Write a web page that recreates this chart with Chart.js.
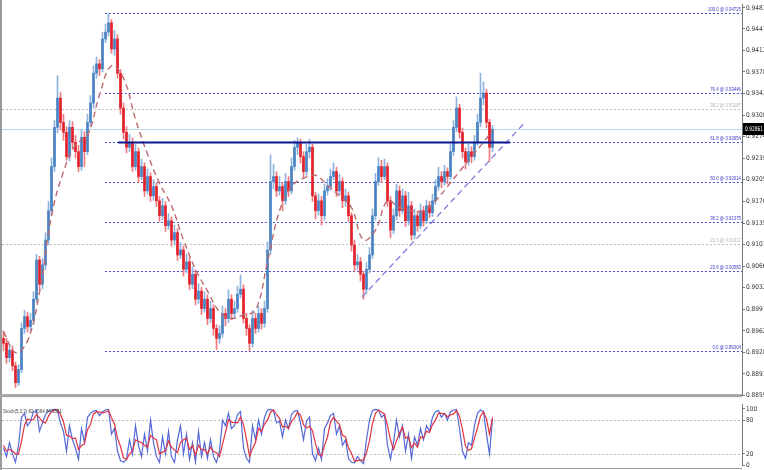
<!DOCTYPE html>
<html>
<head>
<meta charset="utf-8">
<script src="https://cdn.jsdelivr.net/npm/chart.js@4.4.1/dist/chart.umd.min.js"></script>
<style>
  html, body { margin: 0; padding: 0; background: #ffffff; }
  #contenedor { position: relative; width: 764px; height: 470px; overflow: hidden; }
  #grafico_principal { position: absolute; left: 0; top: 0; }
  #grafico_stoch { position: absolute; left: 0; top: 400px; }
</style>
</head>
<body>
<div id="contenedor">
  <canvas id="grafico_principal" width="764" height="400"></canvas>
  <canvas id="grafico_stoch" width="764" height="70"></canvas>
</div>
<script>
// DATOS
let aperturaInicial = 0.8950;
let cierres = [
  0.8942,0.8919,0.8931,0.8906,0.8879,0.8900,
  0.8966,0.8985,0.8969,0.8979,0.9013,
  0.9076,0.9037,0.9068,0.9108,0.9155,
  0.9226,0.9289,0.9336,0.9297,
  0.9281,0.9242,0.9289,0.9265,0.9250,0.9226,0.9273,0.9250,0.9297,
  0.9328,0.9376,0.9391,0.9383,0.9431,0.9442,0.9457,
  0.9415,0.9431,0.9376,0.9320,0.9281,
  0.9257,0.9265,0.9226,0.9250,0.9210,0.9226,0.9187,0.9210,0.9179,0.9194,
  0.9171,0.9147,0.9163,0.9131,0.9139,0.9108,0.9120,0.9084,0.9092,0.9061,
  0.9073,0.9037,0.9053,0.9013,0.9026,0.8998,
  0.9013,0.8982,0.8998,0.8966,0.8950,0.8958,0.8990,0.8982,
  0.9013,0.8990,0.8998,0.9021,0.9029,0.8982,0.8966,0.8942,
  0.8982,0.8966,0.8990,0.8974,0.8998,
  0.9092,0.9202,0.9210,0.9187,0.9194,0.9171,0.9202,0.9187,0.9226,
  0.9257,0.9265,0.9242,0.9218,0.9250,0.9257,
  0.9179,0.9155,0.9171,0.9147,0.9187,0.9194,0.9210,0.9218,0.9187,0.9202,0.9171,0.9179,
  0.9147,0.9100,0.9068,0.9073,0.9053,0.9029,
  0.9061,0.9084,0.9147,0.9202,0.9226,0.9210,0.9226,
  0.9171,0.9124,0.9147,0.9187,0.9155,0.9179,0.9139,0.9163,
  0.9116,0.9147,0.9131,0.9155,0.9139,0.9163,0.9152,0.9171,0.9194,
  0.9210,0.9202,0.9218,0.9210,
  0.9250,0.9289,0.9320,0.9281,0.9250,0.9234,0.9250,0.9242,0.9265,0.9297,0.9336,0.9344,0.9297,0.9257,0.92861
];
let maximos = [
  0.8962,0.8950,0.8940,0.8938,0.8912,0.8908,
  0.8975,0.8995,0.8992,0.8990,0.9025,
  0.9085,0.9082,0.9078,0.9120,0.9170,
  0.9240,0.9300,0.9372,0.9345,
  0.9310,0.9290,0.9300,0.9298,0.9276,0.9260,0.9285,0.9282,0.9310,
  0.9340,0.9388,0.9402,0.9398,0.9442,0.9455,0.9472,
  0.9462,0.9445,0.9438,0.9382,0.9328,
  0.9290,0.9278,0.9272,0.9262,0.9256,0.9238,0.9232,0.9222,0.9216,0.9205,
  0.9200,0.9178,0.9175,0.9170,0.9150,0.9145,0.9132,0.9126,0.9104,0.9098,
  0.9085,0.9080,0.9065,0.9060,0.9038,0.9032,
  0.9025,0.9020,0.9010,0.9004,0.8972,0.8970,0.9002,0.8998,
  0.9028,0.9020,0.9010,0.9034,0.9052,0.9036,0.8990,0.8972,
  0.8995,0.8990,0.9002,0.8998,0.9010,
  0.9105,0.9245,0.9230,0.9218,0.9210,0.9200,0.9215,0.9210,0.9240,
  0.9268,0.9272,0.9270,0.9250,0.9262,0.9270,
  0.9262,0.9185,0.9182,0.9178,0.9198,0.9206,0.9222,0.9232,0.9225,0.9214,0.9208,0.9190,
  0.9185,0.9152,0.9108,0.9085,0.9080,0.9058,
  0.9072,0.9096,0.9158,0.9215,0.9240,0.9236,0.9238,
  0.9232,0.9178,0.9158,0.9198,0.9195,0.9190,0.9186,0.9185,
  0.9170,0.9158,0.9155,0.9166,0.9162,0.9172,0.9170,0.9182,0.9205,
  0.9225,0.9218,0.9228,0.9224,
  0.9262,0.9300,0.9338,0.9326,0.9288,0.9256,0.9262,0.9258,0.9276,0.9310,0.9376,0.9362,0.9350,0.9302,0.9292
];
let minimos = [
  0.8930,0.8910,0.8912,0.8898,0.8871,0.8874,
  0.8895,0.8958,0.8960,0.8962,0.8972,
  0.9008,0.9028,0.9030,0.9060,0.9100,
  0.9148,0.9218,0.9280,0.9285,
  0.9268,0.9236,0.9235,0.9255,0.9240,0.9218,0.9220,0.9226,0.9245,
  0.9290,0.9320,0.9368,0.9372,0.9378,0.9425,0.9436,
  0.9408,0.9405,0.9368,0.9310,0.9270,
  0.9248,0.9250,0.9218,0.9220,0.9200,0.9205,0.9178,0.9182,0.9170,0.9172,
  0.9162,0.9138,0.9140,0.9122,0.9125,0.9098,0.9100,0.9075,0.9078,0.9050,
  0.9055,0.9028,0.9030,0.9004,0.9006,0.8988,
  0.8992,0.8972,0.8975,0.8955,0.8932,0.8942,0.8952,0.8970,
  0.8975,0.8980,0.8982,0.8992,0.9015,0.8975,0.8955,0.8930,
  0.8936,0.8958,0.8960,0.8965,0.8968,
  0.8992,0.9085,0.9190,0.9178,0.9180,0.9155,0.9165,0.9178,0.9182,
  0.9220,0.9245,0.9232,0.9208,0.9212,0.9240,
  0.9170,0.9142,0.9148,0.9132,0.9140,0.9180,0.9188,0.9205,0.9178,0.9180,0.9160,0.9162,
  0.9138,0.9090,0.9058,0.9060,0.9042,0.9013,
  0.9022,0.9055,0.9078,0.9140,0.9196,0.9200,0.9205,
  0.9162,0.9112,0.9118,0.9140,0.9146,0.9150,0.9130,0.9132,
  0.9108,0.9110,0.9122,0.9126,0.9130,0.9134,0.9144,0.9146,0.9165,
  0.9188,0.9192,0.9196,0.9198,
  0.9205,0.9244,0.9282,0.9272,0.9240,0.9222,0.9228,0.9232,0.9236,0.9260,0.9290,0.9325,0.9288,0.9234,0.9250
];

// media movil (leida cada 4 velas)
let mediaIndices = [0,4,8,12,16,20,24,28,32,36,40,44,48,52,56,60,64,68,72,76,80,84,88,92,96,100,104,108,112,116,120,124,128,132,136,140,144,148,152,156,160,163];
let mediaValores = [
  0.8961,0.8927,0.8946,0.9024,0.9147,0.9218,0.9261,0.9276,0.9341,0.9388,0.9368,0.9302,0.9246,0.9199,
  0.9163,0.9108,0.9061,0.9026,0.8993,0.8982,0.8988,0.8995,0.9073,0.9155,0.9194,0.9207,0.9212,0.9196,
  0.9179,0.9160,0.9108,0.9124,0.9171,0.9160,0.9155,0.9155,0.9171,0.9194,0.9218,0.9242,0.9265,0.9284
];

// estocastico %K y %D
let stochK = [
  30,15,40,20,5,35, 85,92,70,78,95, 97,60,75,90,96, 98,99,97,75,
  60,25,70,45,30,10,65,40,85, 92,96,97,88,95,98,99, 55,65,25,8,5,
  10,45,20,70,35,15,55,25,80,40, 15,5,50,20,60,15,5,45,70,20,
  55,10,40,5,60,15, 40,12,45,15,5,25,80,70, 92,65,70,90,95,30,12,5,
  70,45,80,55,85, 98,99,97,75,78,50,80,65,90, 96,97,75,45,78,85,
  20,8,30,10,65,75,88,92,55,70,35,45, 12,5,4,15,8,3, 45,80,97,99,98,85,90,
  35,10,40,80,50,70,25,55, 12,50,35,65,45,70,60,85,95, 97,85,92,80,
  95,98,99,65,25,12,40,35,70,92,98,95,55,20,82
];
let stochD = [
  35,25,28,25,20,20, 42,71,82,80,81, 90,84,77,75,87, 95,98,98,90,
  77,53,52,47,48,28,35,38,63, 72,91,95,94,93,94,97, 84,73,48,33,13,
  10,20,25,45,42,40,35,32,53,48, 45,20,23,25,43,32,27,22,40,45,
  48,28,35,18,35,27, 28,20,32,24,22,15,37,58, 81,76,76,75,85,72,46,16,
  29,40,65,60,73, 80,94,98,90,83,68,69,65,78, 84,94,89,72,66,69,
  61,38,19,16,35,50,76,85,78,72,53,50, 31,21,7,8,9,9, 22,43,74,92,98,94,91,
  70,45,28,43,57,67,48,50, 31,39,32,50,48,60,58,72,80, 92,92,91,86,
  89,91,97,87,63,34,26,29,48,66,87,95,82,55,85
];

// niveles fibonacci
let fibPorcentajes = ["100.0", "76.4", "61.8", "50.0", "38.2", "23.6", "0.0"];
let fibPrecios = [0.94725, 0.93446, 0.92654, 0.92014, 0.91375, 0.90583, 0.89304];
let fibInicio = 33.8;
let fibGrisPorcentajes = ["38.2", "23.6"];
let fibGrisPrecios = [0.93187, 0.91017];
let precioActual = 0.92861;
let lineaAzul = { desde: 38.2, hasta: 168.8, precio: 0.9264 };
let tendenciaIndices = [119.5, 173.8];
let tendenciaPrecios = [0.90164, 0.92967];

let ticksPrecio = [0.94810,0.94470,0.94120,0.93780,0.93430,0.93080,0.92740,0.92390,0.92050,0.91700,0.91350,0.91010,0.90660,0.90320,0.89970,0.89620,0.89280,0.88930,0.88590];
let ticksStoch = [0, 20, 80, 100];
let textoStoch = "Stoch(5,3,3) 82.2564 84.6581";

// ESTILOS
let fuente = "'Liberation Sans', Arial, sans-serif";
let fuenteEje = "'Liberation Sans Narrow', 'DejaVu Sans Condensed', 'Liberation Sans', sans-serif";
let rojo = "#e2212b";
let azul = "#4a82c2";
let rojoMecha = "#ee7a80";
let azulMecha = "#8db3de";
let xMin = -0.5;
let xMax = 246.17;

let aperturas = [aperturaInicial].concat(cierres.slice(0, -1));

function esAlcista(i) {
  return cierres[i] >= aperturas[i];
}

function lineaHorizontal(ctx, x1, x2, y, color, ancho, guion) {
  ctx.save();
  ctx.strokeStyle = color;
  ctx.lineWidth = ancho;
  ctx.setLineDash(guion);
  ctx.beginPath();
  ctx.moveTo(x1, Math.round(y) + 0.5);
  ctx.lineTo(x2, Math.round(y) + 0.5);
  ctx.stroke();
  ctx.restore();
}

// PLUGIN PRINCIPAL
let pluginNiveles = {
  id: "niveles",
  beforeDatasetsDraw(chart) {
    let ctx = chart.ctx;
    let area = chart.chartArea;
    let x = chart.scales.x;
    let y = chart.scales.y;
    // linea de precio actual
    lineaHorizontal(ctx, area.left, area.right, y.getPixelForValue(precioActual), "#b3dcee", 1, []);
    // niveles grises
    fibGrisPrecios.forEach(function (p) {
      lineaHorizontal(ctx, area.left, area.right, y.getPixelForValue(p), "#bdbdbd", 1, [2, 2]);
    });
    // niveles fibonacci
    let inicio = x.getPixelForValue(fibInicio);
    fibPrecios.forEach(function (p) {
      lineaHorizontal(ctx, inicio, area.right, y.getPixelForValue(p), "#4b4bd2", 1, [2, 2]);
    });
  },
  afterDatasetsDraw(chart) {
    let ctx = chart.ctx;
    let area = chart.chartArea;
    let x = chart.scales.x;
    let y = chart.scales.y;
    lineaHorizontal(
      ctx,
      x.getPixelForValue(lineaAzul.desde),
      x.getPixelForValue(lineaAzul.hasta),
      y.getPixelForValue(lineaAzul.precio) - 0.5,
      "#0b1690",
      2,
      []
    );
    ctx.save();
    ctx.font = "6px " + fuente;
    ctx.textAlign = "right";
    ctx.textBaseline = "bottom";
    ctx.fillStyle = "#3c3cc8";
    fibPrecios.forEach(function (p, i) {
      let txt = fibPorcentajes[i] + " @ " + p.toFixed(5);
      ctx.fillText(txt, area.right - 1, y.getPixelForValue(p) - 0.5, txt.length * 2.2);
    });
    ctx.fillStyle = "#b4b4b4";
    fibGrisPrecios.forEach(function (p, i) {
      let txt = fibGrisPorcentajes[i] + " @ " + p.toFixed(5);
      ctx.fillText(txt, area.right - 1, y.getPixelForValue(p) - 0.5, txt.length * 2.2);
    });
    ctx.restore();
  },
  afterDraw(chart) {
    let ctx = chart.ctx;
    let area = chart.chartArea;
    let y = chart.scales.y;
    ctx.save();
    // bordes
    ctx.fillStyle = "#9a9a9a";
    ctx.fillRect(0, 0, 2, chart.height);
    ctx.fillStyle = "#a6a6a6";
    ctx.fillRect(0, area.bottom - 1, area.right, 3);
    // etiqueta del precio actual
    let py = Math.round(y.getPixelForValue(precioActual));
    ctx.fillStyle = "#000000";
    ctx.fillRect(area.right + 1, py - 6, chart.width - area.right, 12);
    ctx.fillStyle = "#ffffff";
    ctx.font = "6.5px " + fuenteEje;
    ctx.textAlign = "left";
    ctx.textBaseline = "middle";
    ctx.fillText(precioActual.toFixed(5), area.right + 3, py, 18);
    ctx.restore();
  },
};

// PLUGIN STOCH
let pluginStoch = {
  id: "stoch",
  beforeDatasetsDraw(chart) {
    let ctx = chart.ctx;
    let area = chart.chartArea;
    let y = chart.scales.y;
    [80, 20].forEach(function (v) {
      lineaHorizontal(ctx, area.left, area.right, y.getPixelForValue(v), "#bdbdbd", 1, [2, 2]);
    });
  },
  afterDraw(chart) {
    let ctx = chart.ctx;
    let area = chart.chartArea;
    ctx.save();
    ctx.fillStyle = "#9a9a9a";
    ctx.fillRect(0, 0, 2, chart.height);
    ctx.fillStyle = "#a0a0a0";
    ctx.fillRect(0, chart.height - 2, area.right, 1);
    ctx.fillStyle = "#444444";
    ctx.font = "6px " + fuente;
    ctx.textBaseline = "middle";
    ctx.fillText(textoStoch, 3, 11, 59);
    ctx.restore();
  },
};

function ejeDerecho(ticks, min, max, formato) {
  return {
    type: "linear",
    position: "right",
    min: min,
    max: max,
    afterBuildTicks: function (eje) {
      eje.ticks = ticks.map(function (v) {
        return { value: v };
      });
    },
    afterFit: function (eje) {
      eje.width = 22;
    },
    grid: { drawOnChartArea: false, drawTicks: true, tickLength: 3, color: "#777777" },
    border: { display: true, color: "#777777", width: 1 },
    ticks: {
      padding: 1,
      autoSkip: false,
      color: "#333333",
      font: { size: 6.5, family: fuenteEje },
      callback: formato,
    },
  };
}

let ejeX = { type: "linear", min: xMin, max: xMax, offset: false, display: false };

// GRAFICO PRINCIPAL
new Chart(document.getElementById("grafico_principal").getContext("2d"), {
  type: "bar",
  data: {
    datasets: [
      {
        type: "line",
        label: "tendencia",
        data: tendenciaIndices.map(function (v, i) {
          return { x: v, y: tendenciaPrecios[i] };
        }),
        borderColor: "#8379df",
        borderWidth: 1.3,
        borderDash: [6, 4],
        pointRadius: 0,
        order: 0,
      },
      {
        type: "line",
        label: "media",
        data: mediaIndices.map(function (v, i) {
          return { x: v, y: mediaValores[i] };
        }),
        borderColor: "#bd6a6f",
        borderWidth: 1.4,
        borderDash: [6, 4],
        pointRadius: 0,
        tension: 0.4,
        order: 1,
      },
      {
        label: "cuerpos",
        data: cierres.map(function (c, i) {
          return { x: i, y: [aperturas[i], c] };
        }),
        backgroundColor: function (ctx) {
          return esAlcista(ctx.dataIndex) ? azul : rojo;
        },
        barThickness: 2,
        minBarLength: 1,
        grouped: false,
        order: 2,
      },
      {
        label: "mechas",
        data: cierres.map(function (c, i) {
          return { x: i, y: [minimos[i], maximos[i]] };
        }),
        backgroundColor: function (ctx) {
          return esAlcista(ctx.dataIndex) ? azulMecha : rojoMecha;
        },
        barThickness: 1,
        grouped: false,
        order: 3,
      },
    ],
  },
  options: {
    responsive: false,
    animation: false,
    events: [],
    layout: { padding: { left: 2, top: 0, right: 0, bottom: 2 } },
    plugins: { legend: { display: false }, tooltip: { enabled: false } },
    scales: {
      x: ejeX,
      y: ejeDerecho(ticksPrecio, 0.88589, 0.94857, function (v) {
        return Number(v).toFixed(5);
      }),
    },
  },
  plugins: [pluginNiveles],
});

// GRAFICO STOCH
new Chart(document.getElementById("grafico_stoch").getContext("2d"), {
  type: "line",
  data: {
    datasets: [
      {
        label: "signal",
        data: stochD.map(function (v, i) {
          return { x: i, y: v };
        }),
        borderColor: "#e2323e",
        borderWidth: 1.2,
        pointRadius: 0,
      },
      {
        label: "main",
        data: stochK.map(function (v, i) {
          return { x: i, y: v };
        }),
        borderColor: "#5468d8",
        borderWidth: 1.2,
        pointRadius: 0,
      },
    ],
  },
  options: {
    responsive: false,
    animation: false,
    events: [],
    layout: { padding: { left: 2, top: 1, right: 0, bottom: 1 } },
    plugins: { legend: { display: false }, tooltip: { enabled: false } },
    scales: {
      x: ejeX,
      y: ejeDerecho(ticksStoch, 0, 107, function (v) {
        return String(v);
      }),
    },
  },
  plugins: [pluginStoch],
});
</script>
</body>
</html>
